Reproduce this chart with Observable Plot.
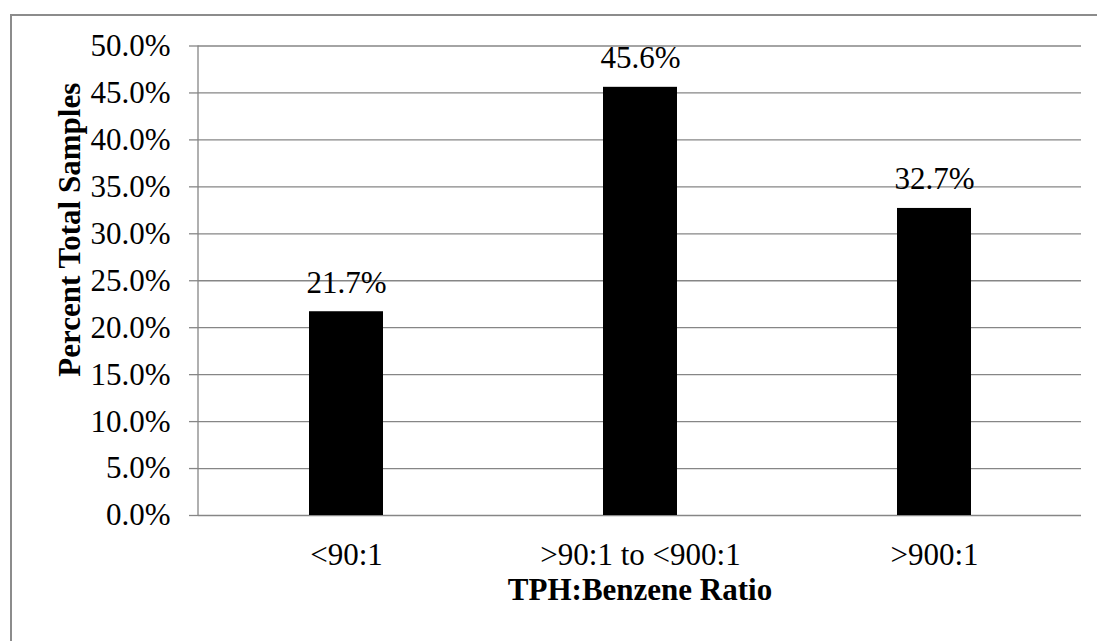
<!DOCTYPE html>
<html>
<head>
<meta charset="utf-8">
<script src="https://cdn.jsdelivr.net/npm/d3@7"></script>
<script src="https://cdn.jsdelivr.net/npm/@observablehq/plot@0.6"></script>
<style>
  html, body { margin: 0; padding: 0; background: #fff; overflow: hidden; }
  #wrap { position: relative; width: 1097px; height: 641px; }
  #border { position: absolute; left: 10px; top: 14px; width: 1200px; height: 800px;
            border-left: 2px solid #8c8c8c; border-top: 2px solid #8c8c8c; pointer-events: none; }
  #chart svg { display: block; }
</style>
</head>
<body>
<div id="wrap"><div id="chart"></div><div id="border"></div></div>
<script>
const categories = ["<90:1", ">90:1 to <900:1", ">900:1"];
const values = [0.217, 0.456, 0.327];
const yTicks = [0, 0.05, 0.10, 0.15, 0.20, 0.25, 0.30, 0.35, 0.40, 0.45, 0.50];
const yTitle = "Percent Total Samples";
const xTitle = "TPH:Benzene Ratio";

const data = categories.map((c, i) => ({category: c, value: values[i]}));
const pct = d3.format(".1%");
const gridColor = "#868686";
const font = "'Liberation Serif', 'Times New Roman', serif";

const chart = Plot.plot({
  width: 1097,
  height: 641,
  marginLeft: 198,
  marginRight: 16,
  marginTop: 45.5,
  marginBottom: 126,
  style: {fontFamily: font, fontSize: "31px", color: "black", background: "transparent", overflow: "visible"},
  x: {domain: categories, paddingInner: 0.75, paddingOuter: 0.375, label: null},
  y: {domain: [0, 0.5], label: null},
  marks: [
    Plot.gridY(yTicks, {stroke: gridColor, strokeOpacity: 1, strokeWidth: 1.3}),
    Plot.axisY(yTicks, {tickFormat: pct, tickSize: 9, tickPadding: 19, stroke: gridColor, strokeWidth: 1.3, fontSize: 31, label: null}),
    Plot.axisX({tickSize: 0, tickPadding: 27, fontSize: 31, label: null}),
    Plot.barY(data, {x: "category", y: "value", fill: "black"}),
    Plot.text(data, {x: "category", y: "value", text: d => pct(d.value), dy: -29, fontSize: 31, fill: "black"}),
    Plot.text([yTitle], {frameAnchor: "left", textAnchor: "middle", lineAnchor: "middle", dx: -128, dy: -51, rotate: -90, fontWeight: "bold", fontSize: 31, fill: "black"}),
    Plot.text([xTitle], {frameAnchor: "bottom", textAnchor: "middle", lineAnchor: "middle", dy: 75, fontWeight: "bold", fontSize: 31, fill: "black"})
  ]
});

// vertical value-axis line at the left edge of the plot area, from the library's scales
const xs = chart.scale("x"), ys = chart.scale("y");
const left = Math.min(...xs.range);
d3.select(chart).append("line")
  .attr("x1", left).attr("x2", left)
  .attr("y1", ys.apply(ys.domain[0])).attr("y2", ys.apply(ys.domain[1]))
  .attr("stroke", gridColor).attr("stroke-width", 1.3);

document.getElementById("chart").appendChild(chart);
</script>
</body>
</html>
